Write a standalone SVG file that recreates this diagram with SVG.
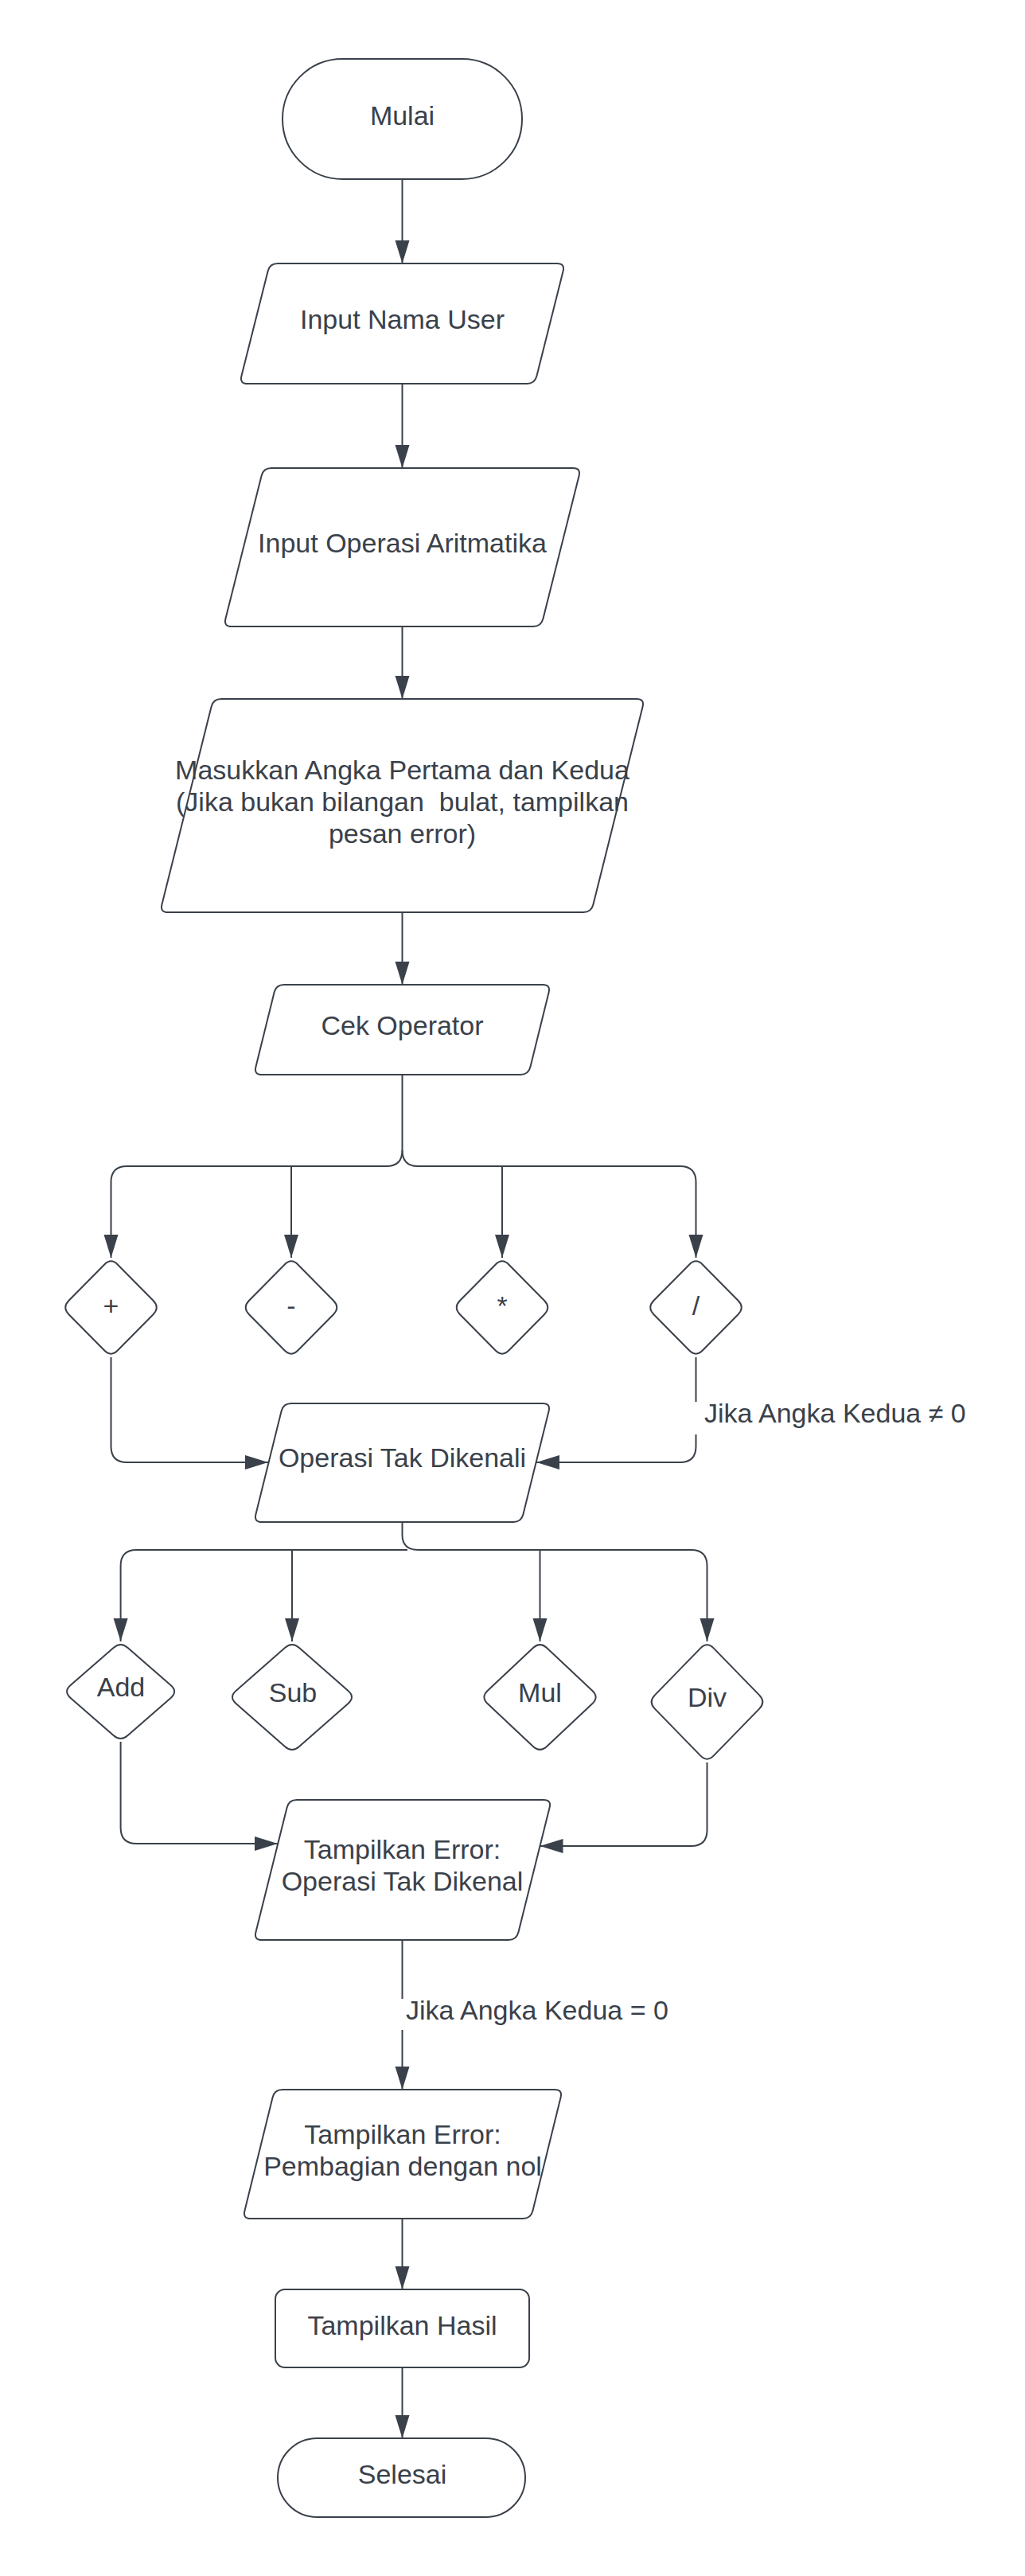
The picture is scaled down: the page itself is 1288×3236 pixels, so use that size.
<svg xmlns="http://www.w3.org/2000/svg" width="1288" height="3236" viewBox="0 0 1288 3236">
<style>
.s{fill:#ffffff;stroke:#3a414a;stroke-width:2}
.c{fill:none;stroke:#3a414a;stroke-width:2}
.t{font-family:"Liberation Sans",Arial,sans-serif;font-size:34px;fill:#3a414a;text-anchor:middle}
.l{font-family:"Liberation Sans",Arial,sans-serif;font-size:34px;fill:#3a414a}
</style>
<defs>
<marker id="ah" markerUnits="userSpaceOnUse" markerWidth="30" markerHeight="20" refX="29" refY="9" orient="auto" viewBox="0 0 30 20">
<path d="M0,0 L29,9 L0,18 Z" fill="#3a414a"/>
</marker>
<path id="dm" d="M -8.5 -53.8 Q 0 -62.5 8.5 -53.8 L 53 -8.7 Q 61.5 0 53 8.7 L 8.5 53.8 Q 0 62.5 -8.5 53.8 L -53 8.7 Q -61.5 0 -53 -8.7 Z"/>
</defs>
<rect width="1288" height="3236" fill="#ffffff"/>

<g id="connectors">
<path class="c" d="M505.5 225 L505.5 331" marker-end="url(#ah)"/>
<path class="c" d="M505.5 482 L505.5 588" marker-end="url(#ah)"/>
<path class="c" d="M505.5 787 L505.5 878" marker-end="url(#ah)"/>
<path class="c" d="M505.5 1146 L505.5 1237" marker-end="url(#ah)"/>
<path class="c" d="M505.5 1350 L505.5 1445 Q505.5 1465 485.5 1465 L159.5 1465 Q139.5 1465 139.5 1485 L139.5 1580" marker-end="url(#ah)"/>
<path class="c" d="M505.5 1445 Q505.5 1465 525.5 1465 L854.5 1465 Q874.5 1465 874.5 1485 L874.5 1580" marker-end="url(#ah)"/>
<path class="c" d="M366 1465 L366 1580" marker-end="url(#ah)"/>
<path class="c" d="M631 1465 L631 1580" marker-end="url(#ah)"/>
<path class="c" d="M139.5 1705 L139.5 1817 Q139.5 1837 159.5 1837 L337 1837" marker-end="url(#ah)"/>
<path class="c" d="M874.5 1705 L874.5 1761"/>
<path class="c" d="M874.5 1802 L874.5 1817 Q874.5 1837 854.5 1837 L674 1837" marker-end="url(#ah)"/>
<path class="c" d="M505.5 1912 L505.5 1928 Q505.5 1947 525.5 1947 L868.5 1947 Q888.5 1947 888.5 1967 L888.5 2062" marker-end="url(#ah)"/>
<path class="c" d="M512 1947 L171.6 1947 Q151.6 1947 151.6 1967 L151.6 2062" marker-end="url(#ah)"/>
<path class="c" d="M367 1947 L367 2062" marker-end="url(#ah)"/>
<path class="c" d="M678.5 1947 L678.5 2062" marker-end="url(#ah)"/>
<path class="c" d="M151.6 2188 L151.6 2296 Q151.6 2316 171.6 2316 L349 2316" marker-end="url(#ah)"/>
<path class="c" d="M888.5 2214 L888.5 2299 Q888.5 2319 868.5 2319 L678.5 2319" marker-end="url(#ah)"/>
<path class="c" d="M505.5 2437 L505.5 2511"/>
<path class="c" d="M505.5 2550 L505.5 2625" marker-end="url(#ah)"/>
<path class="c" d="M505.5 2787 L505.5 2876" marker-end="url(#ah)"/>
<path class="c" d="M505.5 2974 L505.5 3063" marker-end="url(#ah)"/>
<text class="l" x="885" y="1787">Jika Angka Kedua ≠ 0</text>
<text class="l" x="510" y="2537">Jika Angka Kedua = 0</text>
</g>

<g id="mulai">
<rect class="s" x="355" y="74" width="301" height="151" rx="75.5" ry="75.5"/>
<text class="t" x="505.5" y="157">Mulai</text>
</g>

<g id="input-nama">
<path class="s" d="M349 331 L700 331 Q710 331 707.57 340.7 L674.43 472.3 Q672 482 662 482 L311 482 Q301 482 303.43 472.3 L336.57 340.7 Q339 331 349 331 Z"/>
<text class="t" x="505.5" y="413">Input Nama User</text>
</g>

<g id="input-operasi">
<path class="s" d="M341 588 L720 588 Q730 588 727.57 597.7 L682.43 777.3 Q680 787 670 787 L291 787 Q281 787 283.43 777.3 L328.57 597.7 Q331 588 341 588 Z"/>
<text class="t" x="505.5" y="694">Input Operasi Aritmatika</text>
</g>

<g id="masukkan-angka">
<path class="s" d="M278 878 L800 878 Q810 878 807.57 887.7 L745.43 1136.3 Q743 1146 733 1146 L211 1146 Q201 1146 203.43 1136.3 L265.57 887.7 Q268 878 278 878 Z"/>
<text class="t" x="505.5" y="979" xml:space="preserve">Masukkan Angka Pertama dan Kedua</text>
<text class="t" x="505.5" y="1019" xml:space="preserve">(Jika bukan bilangan  bulat, tampilkan</text>
<text class="t" x="505.5" y="1059">pesan error)</text>
</g>

<g id="cek-operator">
<path class="s" d="M357 1237 L682 1237 Q692 1237 689.57 1246.7 L666.43 1340.3 Q664 1350 654 1350 L329 1350 Q319 1350 321.43 1340.3 L344.57 1246.7 Q347 1237 357 1237 Z"/>
<text class="t" x="505.5" y="1300">Cek Operator</text>
</g>

<g id="op-plus">
<use href="#dm" class="s" transform="translate(139.5 1642.5)"/>
<text class="t" x="139.5" y="1652">+</text>
</g>
<g id="op-minus">
<use href="#dm" class="s" transform="translate(366 1642.5)"/>
<text class="t" x="366" y="1652">-</text>
</g>
<g id="op-mul">
<use href="#dm" class="s" transform="translate(631 1642.5)"/>
<text class="t" x="631" y="1652">*</text>
</g>
<g id="op-div">
<use href="#dm" class="s" transform="translate(874.5 1642.5)"/>
<text class="t" x="874.5" y="1652">/</text>
</g>

<g id="operasi-tak-dikenali">
<path class="s" d="M366 1763 L682 1763 Q692 1763 689.57 1772.7 L657.43 1902.3 Q655 1912 645 1912 L329 1912 Q319 1912 321.43 1902.3 L353.57 1772.7 Q356 1763 366 1763 Z"/>
<text class="t" x="505.5" y="1843">Operasi Tak Dikenali</text>
</g>

<g id="add">
<path class="s" transform="translate(151.6 2125)" d="M -9 -55 Q 0 -63 9 -55 L 63 -7.9 Q 72 0 63 7.9 L 9 55 Q 0 63 -9 55 L -63 7.9 Q -72 0 -63 -7.9 Z"/>
<text class="t" x="152" y="2131">Add</text>
</g>
<g id="sub">
<path class="s" transform="translate(367 2132)" d="M -9 -62 Q 0 -70 9 -62 L 70.5 -7.9 Q 79.5 0 70.5 7.9 L 9 62 Q 0 70 -9 62 L -70.5 7.9 Q -79.5 0 -70.5 -7.9 Z"/>
<text class="t" x="368" y="2138">Sub</text>
</g>
<g id="mul">
<path class="s" transform="translate(678.5 2132)" d="M -8.8 -61.7 Q 0 -70 8.8 -61.7 L 65.7 -8.3 Q 74.5 0 65.7 8.3 L 8.8 61.7 Q 0 70 -8.8 61.7 L -65.7 8.3 Q -74.5 0 -65.7 -8.3 Z"/>
<text class="t" x="678.5" y="2138">Mul</text>
</g>
<g id="div">
<path class="s" transform="translate(888.5 2138)" d="M -8.4 -67.4 Q 0 -76 8.4 -67.4 L 65.6 -8.6 Q 74 0 65.6 8.6 L 8.4 67.4 Q 0 76 -8.4 67.4 L -65.6 8.6 Q -74 0 -65.6 -8.6 Z"/>
<text class="t" x="888.5" y="2144">Div</text>
</g>

<g id="error-operasi">
<path class="s" d="M373 2261 L683 2261 Q693 2261 690.57 2270.7 L651.43 2427.3 Q649 2437 639 2437 L329 2437 Q319 2437 321.43 2427.3 L360.57 2270.7 Q363 2261 373 2261 Z"/>
<text class="t" x="505.5" y="2335">Tampilkan Error:</text>
<text class="t" x="505.5" y="2375">Operasi Tak Dikenal</text>
</g>

<g id="error-nol">
<path class="s" d="M355 2625 L697 2625 Q707 2625 704.57 2634.7 L669.43 2777.3 Q667 2787 657 2787 L315 2787 Q305 2787 307.43 2777.3 L342.57 2634.7 Q345 2625 355 2625 Z"/>
<text class="t" x="506" y="2693">Tampilkan Error:</text>
<text class="t" x="506" y="2733">Pembagian dengan nol</text>
</g>

<g id="tampilkan-hasil">
<rect class="s" x="346" y="2876" width="319" height="98" rx="12" ry="12"/>
<text class="t" x="505.5" y="2933">Tampilkan Hasil</text>
</g>

<g id="selesai">
<rect class="s" x="349" y="3063" width="311" height="99" rx="49.5" ry="49.5"/>
<text class="t" x="505.5" y="3120">Selesai</text>
</g>
</svg>
